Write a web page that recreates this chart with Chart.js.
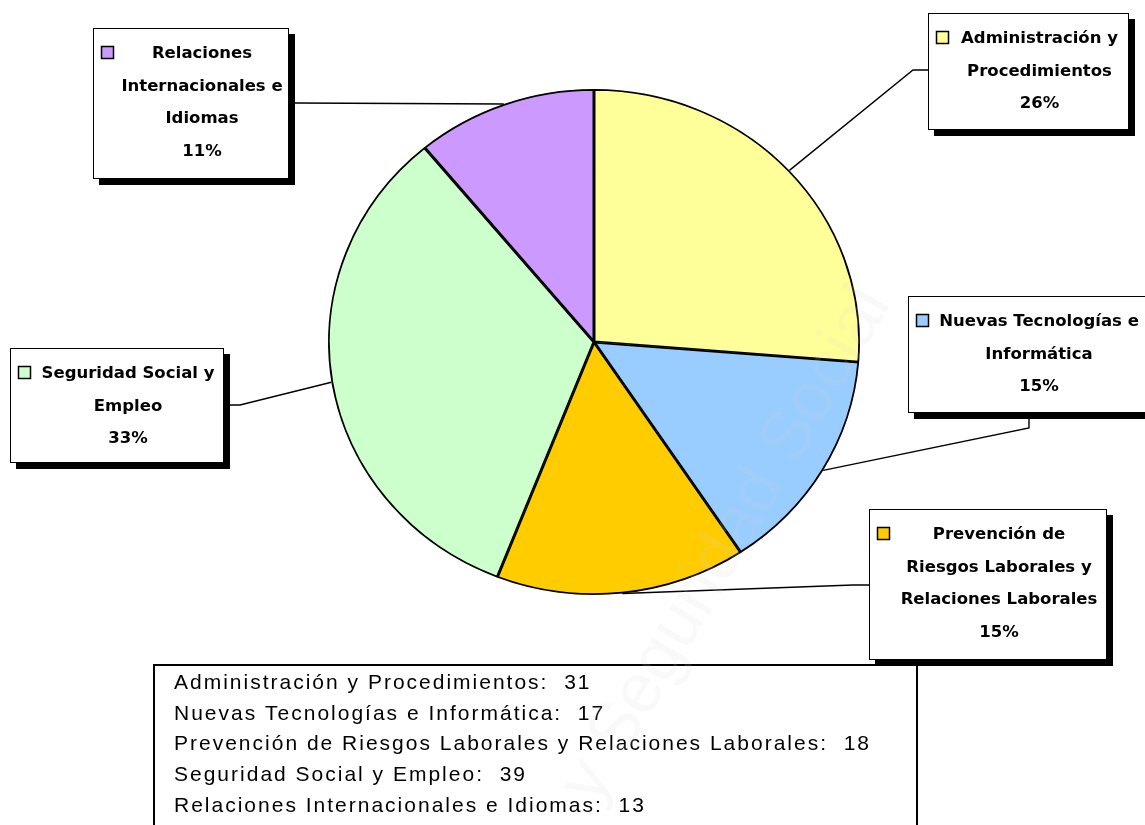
<!DOCTYPE html>
<html>
<head>
<meta charset="utf-8">
<script src="https://cdn.jsdelivr.net/npm/chart.js@4.4.1/dist/chart.umd.min.js"></script>
<style>
    html, body { margin: 0; padding: 0; background: #fff; overflow: hidden; }
</style>
</head>
<body>
<canvas id="pieChart" width="1145" height="825"></canvas>
<script>
// Datos del gráfico (en el orden de los sectores, empezando arriba y en sentido horario)
const categorias = [
    'Administración y Procedimientos',
    'Nuevas Tecnologías e Informática',
    'Prevención de Riesgos Laborales y Relaciones Laborales',
    'Seguridad Social y Empleo',
    'Relaciones Internacionales e Idiomas'
];
const cursos = [31, 17, 18, 39, 13];
const porcentajes = ['26%', '15%', '15%', '33%', '11%'];
const colores = ['#FFFF99', '#99CCFF', '#FFCC00', '#CCFFCC', '#CC99FF'];
const lineasEtiqueta = [
    ['Administración y', 'Procedimientos'],
    ['Nuevas Tecnologías e', 'Informática'],
    ['Prevención de', 'Riesgos Laborales y', 'Relaciones Laborales'],
    ['Seguridad Social y', 'Empleo'],
    ['Relaciones', 'Internacionales e', 'Idiomas']
];

// Cajas de las etiquetas y codo de la línea guía
const cajas = [
    { x: 928, y: 13, w: 201, h: 117, codo: [[928, 70], [913, 70]] },
    { x: 908, y: 296, w: 240, h: 117, codo: [[1029, 413], [1029, 428]] },
    { x: 869, y: 509, w: 238, h: 151, codo: [[869, 585], [853, 585]] },
    { x: 10, y: 348, w: 214, h: 115, codo: [[224, 405], [240, 405]] },
    { x: 93, y: 28, w: 196, h: 151, codo: [[289, 103], [296, 103]] }
];

const ESCALA_Y = 0.951;   // el pastel original está un poco achatado

// Dibuja el pastel achatado
const achatar = {
    id: 'achatar',
    beforeDatasetsDraw(chart) {
        const arc = chart.getDatasetMeta(0).data[0];
        const ctx = chart.ctx;
        ctx.save();
        ctx.translate(arc.x, arc.y);
        ctx.scale(1, ESCALA_Y);
        ctx.translate(-arc.x, -arc.y);
    },
    afterDatasetsDraw(chart) {
        chart.ctx.restore();
    }
};

// Etiquetas con caja, sombra y línea guía + cuadro de valores abajo
const etiquetas = {
    id: 'etiquetas',
    afterDraw(chart) {
        const ctx = chart.ctx;
        const arcs = chart.getDatasetMeta(0).data;

        arcs.forEach((arc, i) => {
            const caja = cajas[i];
            const medio = (arc.startAngle + arc.endAngle) / 2;
            const px = arc.x + Math.cos(medio) * arc.outerRadius;
            const py = arc.y + Math.sin(medio) * arc.outerRadius * ESCALA_Y;

            // línea guía
            ctx.save();
            ctx.strokeStyle = '#000';
            ctx.lineWidth = 1.4;
            ctx.beginPath();
            ctx.moveTo(caja.codo[0][0], caja.codo[0][1]);
            ctx.lineTo(caja.codo[1][0], caja.codo[1][1]);
            ctx.lineTo(px, py);
            ctx.stroke();

            // sombra y caja
            ctx.fillStyle = '#000';
            ctx.fillRect(caja.x + 6, caja.y + 6, caja.w, caja.h);
            ctx.fillStyle = '#fff';
            ctx.fillRect(caja.x, caja.y, caja.w, caja.h);
            ctx.lineWidth = 1;
            ctx.strokeStyle = '#000';
            ctx.strokeRect(caja.x + 0.5, caja.y + 0.5, caja.w - 1, caja.h - 1);

            // texto
            const lineas = lineasEtiqueta[i].concat([porcentajes[i]]);
            const cx = caja.x + caja.w / 2 + 11;
            ctx.fillStyle = '#000';
            ctx.font = 'bold 16.5px "DejaVu Sans", sans-serif';
            ctx.textAlign = 'center';
            ctx.textBaseline = 'middle';
            lineas.forEach((t, j) => {
                ctx.fillText(t, cx, caja.y + 26 + j * 32.6);
            });

            // cuadrito de leyenda
            ctx.fillStyle = colores[i];
            ctx.fillRect(caja.x + 8.5, caja.y + 18.5, 12, 12);
            ctx.lineWidth = 1.5;
            ctx.strokeRect(caja.x + 8.5, caja.y + 18.5, 12, 12);
            ctx.restore();
        });

        // cuadro con los valores
        ctx.save();
        ctx.fillStyle = '#fff';
        ctx.fillRect(154, 665, 763, 170);
        ctx.strokeStyle = '#000';
        ctx.lineWidth = 2;
        ctx.strokeRect(154, 665, 763, 170);
        ctx.fillStyle = '#000';
        ctx.font = '21px "Liberation Sans", Arial, sans-serif';
        ctx.letterSpacing = '2px';
        ctx.textAlign = 'left';
        ctx.textBaseline = 'middle';
        categorias.forEach((c, i) => {
            ctx.fillText(c + ':  ' + cursos[i], 174, 683 + i * 30.8);
        });
        ctx.restore();

        // marca de agua
        ctx.save();
        ctx.translate(727, 545);
        ctx.rotate(-1.04);
        ctx.font = '70px "Liberation Sans", Arial, sans-serif';
        ctx.textAlign = 'center';
        ctx.textBaseline = 'middle';
        ctx.fillStyle = 'rgba(210, 210, 210, 0.14)';
        ctx.fillText('y Seguridad Social', 0, 0);
        ctx.restore();
    }
};

const ctxPie = document.getElementById('pieChart').getContext('2d');
const pieChart = new Chart(ctxPie, {
    type: 'pie',
    data: {
        labels: categorias,
        datasets: [{
            data: cursos,
            backgroundColor: colores,
            borderColor: '#000',
            borderWidth: 1.5,
            borderAlign: 'inner'
        }]
    },
    options: {
        responsive: false,
        animation: false,
        events: [],
        layout: { padding: { left: 328, right: 285, top: 76, bottom: 217 } },
        plugins: {
            legend: { display: false },
            tooltip: { enabled: false }
        }
    },
    plugins: [achatar, etiquetas]
});
</script>
</body>
</html>
